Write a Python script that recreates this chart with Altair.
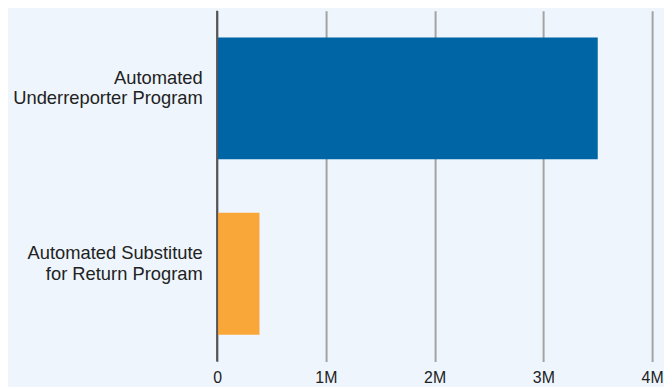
import altair as alt
import pandas as pd

categories = ["Automated Underreporter Program", "Automated Substitute for Return Program"]
label_lines = [["Automated", "Underreporter Program"], ["Automated Substitute", "for Return Program"]]
values = [3500000, 390000]
colors = ["#0065a4", "#faa73a"]
x_ticks = [0, 1000000, 2000000, 3000000, 4000000]

df = pd.DataFrame({"program": categories, "value": values, "color": colors})

label_expr = " : ".join(
    f"datum.label == '{c}' ? {lines!r}" for c, lines in zip(categories[:-1], label_lines[:-1])
) + f" : {label_lines[-1]!r}"

FONT = "Liberation Sans"

bars = alt.Chart(df).mark_bar().encode(
    x=alt.X("value:Q",
            scale=alt.Scale(domain=[0, 4000000], nice=False),
            axis=alt.Axis(title=None, values=x_ticks,
                          labelExpr="datum.value == 0 ? '0' : format(datum.value, '~s')",
                          grid=True, gridColor="#a3a3a3", gridWidth=2, domain=False, ticks=False,
                          labelPadding=8, labelFont=FONT, labelFontSize=16,
                          labelColor="#222222", labelFlush=False)),
    y=alt.Y("program:N", sort=categories,
            scale=alt.Scale(paddingInner=0.305, paddingOuter=0.1525),
            axis=alt.Axis(title=None, domain=False, ticks=False, labelPadding=15,
                          labelFont=FONT, labelFontSize=18.5, labelColor="#222222",
                          labelLineHeight=21, labelOffset=-21, labelAlign="right",
                          labelExpr=label_expr, labelLimit=400)),
    color=alt.Color("color:N", scale=None),
)

zero = alt.Chart(pd.DataFrame({"z": [0]})).mark_rule(color="#555555", strokeWidth=2).encode(
    x=alt.X("z:Q")
)

chart = (bars + zero).properties(
    width=439, height=354,
    background="#eef5fc",
    padding={"left": 4, "top": 0, "right": 0, "bottom": 0},
).configure_view(stroke=None)

chart.save("out.html", embed_options={"renderer": "svg", "actions": False})
